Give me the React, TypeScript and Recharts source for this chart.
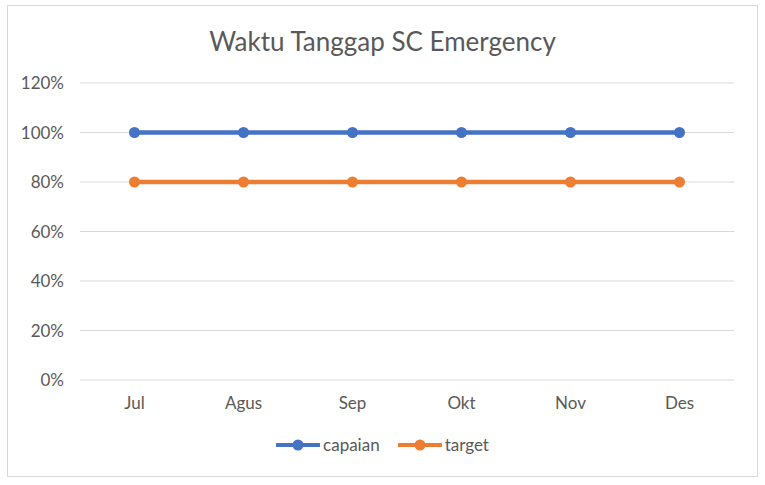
import { CartesianGrid, Line, LineChart, XAxis, YAxis } from "recharts";

const months = ["Jul", "Agus", "Sep", "Okt", "Nov", "Des"];
const capaian = [100, 100, 100, 100, 100, 100];
const target = [80, 80, 80, 80, 80, 80];
const yTicks = [0, 20, 40, 60, 80, 100, 120];

const BLUE = "#4472C4";
const ORANGE = "#ED7D31";
const TEXT = "#595959";
const FONT = "Lato, 'Open Sans', sans-serif";

const rows = months.map((m, i) => ({
  month: m,
  capaian: capaian[i],
  target: target[i],
}));

function LegendItems() {
  const items = [
    { name: "capaian", color: BLUE },
    { name: "target", color: ORANGE },
  ];
  return (
    <div
      style={{
        display: "flex",
        justifyContent: "center",
        gap: 18,
        fontFamily: FONT,
        fontSize: 17,
        color: TEXT,
      }}
    >
      {items.map((it) => (
        <div key={it.name} style={{ display: "flex", alignItems: "center" }}>
          <svg width={44} height={12} style={{ marginRight: 3 }}>
            <line x1={1} y1={6} x2={43} y2={6} stroke={it.color} strokeWidth={4} strokeLinecap="round" />
            <circle cx={22} cy={6} r={5.5} fill={it.color} />
          </svg>
          <span>{it.name}</span>
        </div>
      ))}
    </div>
  );
}

export default function App() {
  return (
    <div
      style={{
        position: "fixed",
        left: 0,
        top: 0,
        width: 765,
        height: 485,
        background: "#fff",
      }}
    >
      <div
        style={{
          position: "absolute",
          left: 7,
          top: 5,
          width: 749,
          height: 470,
          border: "1px solid #d9d9d9",
        }}
      />
      <div
        style={{
          position: "absolute",
          left: 0,
          top: 25,
          width: 765,
          textAlign: "center",
          fontFamily: FONT,
          fontSize: 26,
          color: TEXT,
        }}
      >
        Waktu Tanggap SC Emergency
      </div>
      <div style={{ position: "absolute", left: 0, top: 0 }}>
        <LineChart
          width={765}
          height={485}
          data={rows}
          margin={{ top: 83, right: 31, bottom: 75, left: 20 }}
        >
          <CartesianGrid vertical={false} stroke="#d9d9d9" strokeWidth={1} />
          <XAxis
            dataKey="month"
            scale="band"
            axisLine={false}
            tickLine={false}
            tickSize={8}
            tickMargin={9}
            height={30}
            tick={{ fill: TEXT, fontSize: 17, fontFamily: FONT }}
          />
          <YAxis
            domain={[0, 120]}
            ticks={yTicks}
            axisLine={false}
            tickLine={false}
            tickSize={8}
            tickMargin={8}
            width={60}
            tickFormatter={(v) => `${v}%`}
            tick={{ fill: TEXT, fontSize: 17, fontFamily: FONT }}
          />
          <Line
            dataKey="capaian"
            stroke={BLUE}
            strokeWidth={4.5}
            dot={{ r: 5.5, fill: BLUE, stroke: BLUE, strokeWidth: 0 }}
            isAnimationActive={false}
          />
          <Line
            dataKey="target"
            stroke={ORANGE}
            strokeWidth={4.5}
            dot={{ r: 5.5, fill: ORANGE, stroke: ORANGE, strokeWidth: 0 }}
            isAnimationActive={false}
          />
        </LineChart>
      </div>
      <div style={{ position: "absolute", left: 0, top: 434, width: 765 }}>
        <LegendItems />
      </div>
    </div>
  );
}
